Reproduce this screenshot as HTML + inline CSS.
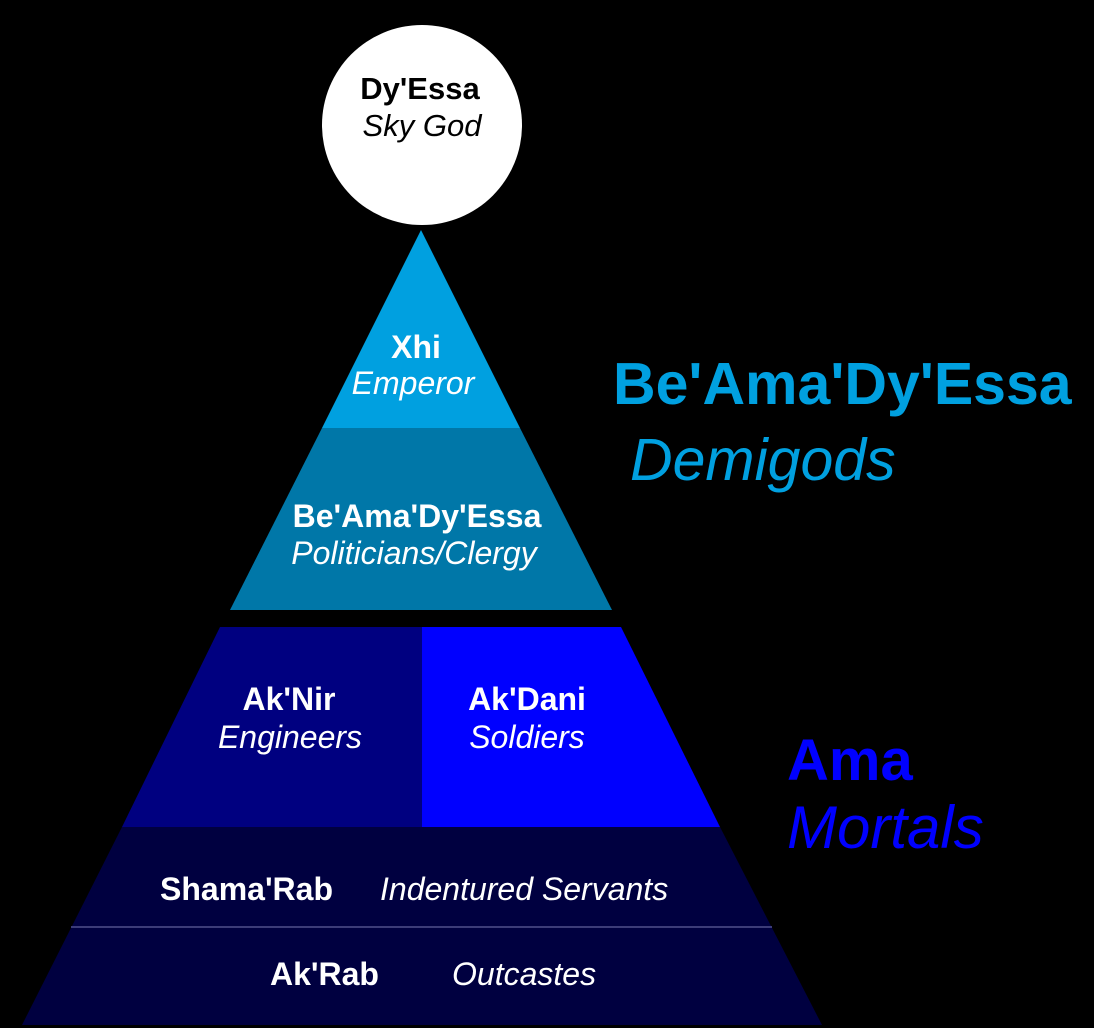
<!DOCTYPE html>
<html><head><meta charset="utf-8"><style>
html,body{margin:0;padding:0;background:#000;}
svg{display:block;}
text{font-family:"Liberation Sans",Arial,sans-serif;}
.b{font-weight:bold;}
.i{font-style:italic;}
</style></head><body>
<svg width="1094" height="1028" viewBox="0 0 1094 1028" xmlns="http://www.w3.org/2000/svg">
<rect width="1094" height="1028" fill="#000"/>
<circle cx="422" cy="125" r="100" fill="#fff"/>
<text x="420" y="99" text-anchor="middle" class="b" font-size="31" fill="#000">Dy'Essa</text>
<text x="422" y="136" text-anchor="middle" class="i" font-size="31" fill="#000">Sky God</text>

<polygon points="421,230 520,428 322,428" fill="#00a0e0"/>
<polygon points="322,428 520,428 612,610 230,610" fill="#0077a8"/>
<polygon points="220,627 422,627 422,827 122,827" fill="#000080"/>
<polygon points="422,627 621,627 720,827 422,827" fill="#0000ff"/>
<polygon points="122,827 720,827 822,1025 22,1025" fill="#000040"/>
<line x1="71" y1="927" x2="772" y2="927" stroke="#3c3c78" stroke-width="2"/>

<g fill="#fff" font-size="32">
<text x="416" y="358" text-anchor="middle" class="b">Xhi</text>
<text x="413" y="394" text-anchor="middle" class="i">Emperor</text>
<text x="417" y="527" text-anchor="middle" class="b">Be'Ama'Dy'Essa</text>
<text x="414" y="564" text-anchor="middle" class="i">Politicians/Clergy</text>
<text x="289" y="710" text-anchor="middle" class="b">Ak'Nir</text>
<text x="290" y="748" text-anchor="middle" class="i">Engineers</text>
<text x="527" y="710" text-anchor="middle" class="b">Ak'Dani</text>
<text x="527" y="748" text-anchor="middle" class="i">Soldiers</text>
<text x="160" y="900" class="b">Shama'Rab</text>
<text x="380" y="900" class="i">Indentured Servants</text>
<text x="270" y="985" class="b">Ak'Rab</text>
<text x="452" y="985" class="i">Outcastes</text>
</g>

<text x="613" y="404" class="b" font-size="59" fill="#00a0e0">Be'Ama'Dy'Essa</text>
<text x="630" y="480" class="i" font-size="59" fill="#00a0e0">Demigods</text>
<text x="787" y="780" class="b" font-size="58" fill="#0000ff">Ama</text>
<text x="787" y="848" class="i" font-size="60" fill="#0000ff">Mortals</text>
</svg>
</body></html>
